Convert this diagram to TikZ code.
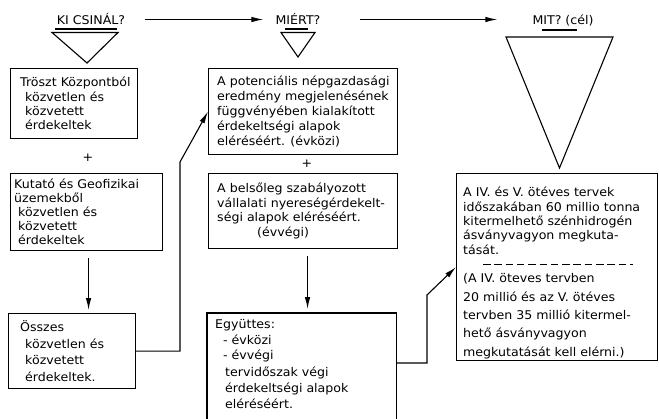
\documentclass[tikz,border=0pt]{standalone}
\usepackage{fontspec}
\setmainfont{DejaVu Sans}[FakeStretch=1.05]
\usetikzlibrary{arrows.meta,positioning}
\newcommand{\txt}[1][15]{\fontsize{12}{#1}\selectfont}
\tikzset{
  box/.style={draw,line width=1.1pt,rectangle,anchor=north west,inner sep=0pt},
  words/.style={align=left,inner sep=0pt},
  title/.style={font=\txt,inner sep=0pt,anchor=base,text height=9pt,text depth=0pt},
  arr/.style={line width=1.1pt,-{Latex[length=12pt,width=5.5pt]}},
  line/.style={line width=1.1pt}
}
\begin{document}
\begin{tikzpicture}[x=1pt,y=-1pt]
\useasboundingbox (0,0) rectangle (659,418);
%titles
\node[title](ki)at(91,24){KI CSINÁL?};
\node[title](miert)at(298,24){MIÉRT?};
\node[title](mit)at(563,24){MIT? (cél)};
\draw[arr,shorten <=20pt,shorten >=12pt](ki.east)--(miert.west);
\draw[arr,shorten <=39pt,shorten >=35pt](miert.east)--(mit.west);
%underlines and triangles
\draw[line](55,29)--(117,29);
\draw[line](52,32.5)--(118,32.5)--(87,63)--cycle;
\draw[line](285,29)--(308,29);
\draw[line](281,32.5)--(315,32.5)--(298,57)--cycle;
\draw[line](542,30)--(577,30);
\draw[line](506,37)--(613,37)--(559.5,168)--cycle;
%first column
\node[box,minimum width=127pt,minimum height=70pt](troszt)at(10,68){};
\node[words,font={\txt[14.3]},right=10pt of troszt.west](troszt-t){Tröszt Központból\\\hspace*{5pt}közvetlen és\\\hspace*{5pt}közvetett\\\hspace*{5pt}érdekeltek};
\node[font=\txt](plus1)at(88,158){+};
\node[box,minimum width=152pt,minimum height=77pt](kutato)at(10,173){};
\node[words,font={\txt[14]},right=4pt of kutato.west](kutato-t){Kutató és Geofizikai\\üzemekből\\\hspace*{4pt}közvetlen és\\\hspace*{4pt}közvetett\\\hspace*{4pt}érdekeltek};
\node[box,minimum width=127pt,minimum height=75pt](osszes)at(8,313){};
\node[words,font={\txt[16.5]},right=12pt of osszes.west](osszes-t){Összes\\\hspace*{5pt}közvetlen és\\\hspace*{5pt}közvetett\\\hspace*{5pt}érdekeltek.};
\draw[arr,shorten <=7pt,shorten >=3pt]([xshift=2pt]kutato.south)--([xshift=2pt]kutato.south|-osszes.north);
%second column
\node[box,minimum width=189pt,minimum height=86pt](pot)at(208,68){};
\node[words,font={\txt[15]},right=9pt of pot.west](pot-t){A potenciális népgazdasági\\eredmény megjelenésének\\függvényében kialakított\\érdekeltségi alapok\\eléréséért. (évközi)};
\node[font=\txt](plus2)at(307,164){+};
\node[box,minimum width=189pt,minimum height=75pt](belso)at(208,173){};
\node[words,font={\txt[14.7]},right=9pt of belso.west](belso-t){A belsőleg szabályozott\\vállalati nyereségérdekelt-\\ségi alapok eléréséért.\\\hspace*{40pt}(évvégi)};
\node[box,draw=none,minimum width=188pt,minimum height=105pt](egyutt)at(207,313){};
\draw[line](egyutt.south west)--(egyutt.north west)--(egyutt.north east)--(egyutt.south east);
\node[words,font={\txt[16]},below right=5.7pt and 8pt of egyutt.north west](egyutt-t){Együttes:\\\hspace*{8pt}- évközi\\\hspace*{8pt}- évvégi\\\hspace*{10pt}tervidőszak végi\\\hspace*{10pt}érdekeltségi alapok\\\hspace*{10pt}eléréséért.};
\draw[arr,shorten <=7pt,shorten >=4pt]([xshift=4.5pt]belso.south)--([xshift=4.5pt]belso.south|-egyutt.north);
%goal
\node[box,minimum width=201pt,minimum height=187pt](mitbox)at(456,173){};
\node[words,font={\txt[14.3]},below right=14pt and 7pt of mitbox.north west](mitup){A IV. és V. ötéves tervek\\időszakában 60 millio tonna\\kitermelhető szénhidrogén\\ásványvagyon megkuta-\\tását.};
\draw[line width=1pt,dash pattern=on 7.5pt off 3.8pt](483,264)--(633,264);
\node[words,font={\txt[18.3]},below right=100.5pt and 7pt of mitbox.north west](mitdown){(A IV. öteves tervben\\20 millió és az V. ötéves\\tervben 35 millió kitermel-\\hető ásványvagyon\\megkutatását kell elérni.)};
%connectors
\coordinate(bend1)at(180,162);
\draw[arr](osszes.east)-|(bend1)--(pot.west);
\coordinate(bend2)at(427,295);
\draw[arr]([yshift=-50pt]egyutt.north east)-|(bend2)--(mitbox.west);
\end{tikzpicture}
\end{document}
